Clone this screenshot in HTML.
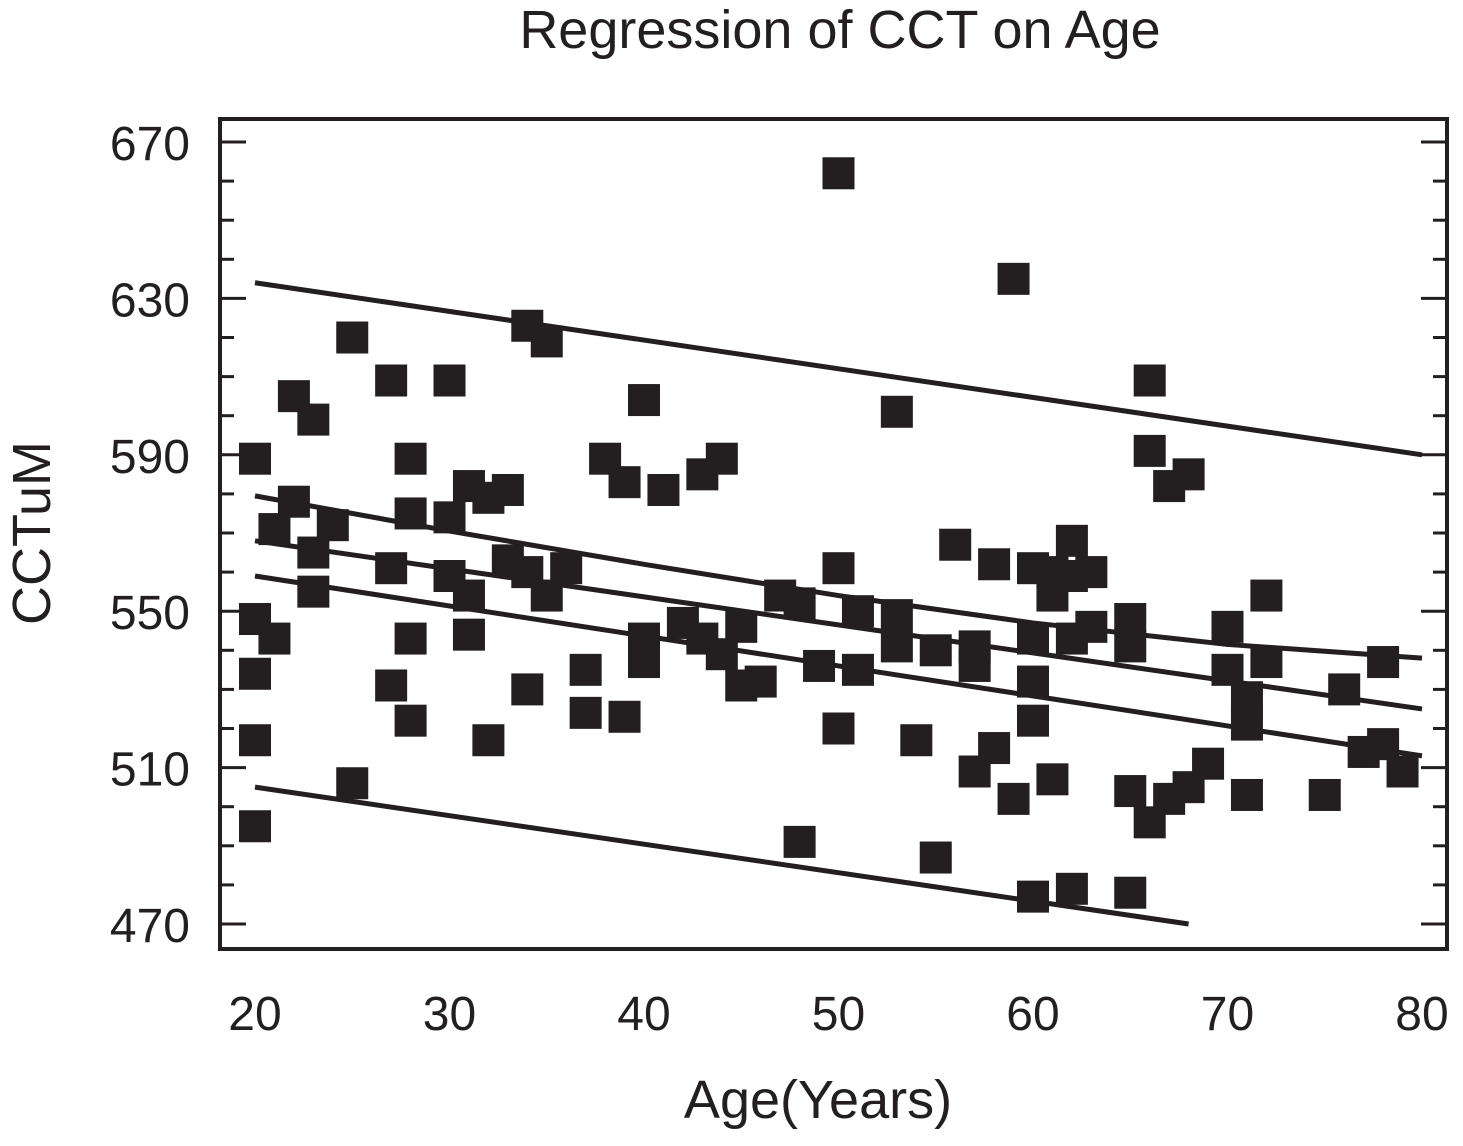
<!DOCTYPE html>
<html><head><meta charset="utf-8"><style>
body{margin:0;background:#fff}
svg{display:block}
text{font-family:"Liberation Sans",sans-serif;fill:#231f20}
</style></head><body>
<svg id="chart" width="1463" height="1146" viewBox="0 0 1463 1146" xmlns="http://www.w3.org/2000/svg">
<text x="840" y="48" font-size="54" text-anchor="middle">Regression of CCT on Age</text>
<text x="818" y="1118" font-size="54" text-anchor="middle">Age(Years)</text>
<text x="0" y="0" font-size="54" text-anchor="middle" transform="translate(50,533) rotate(-90)">CCTuM</text>
<rect x="220" y="119" width="1227" height="830" fill="none" stroke="#231f20" stroke-width="4"/>
<g id="axes"></g>
<g id="lines"></g>
<g id="points"></g>
</svg>
<script>
const yTicks=[470,510,550,590,630,670];
const xTicks=[20,30,40,50,60,70,80];
const ages=[50,59,20,20,20,20,20,21,22,22,21,23,23,23,24,25,25,27,27,27,28,28,28,28,30,30,30,31,31,31,32,32,33,33,34,34,34,35,35,36,37,37,38,39,39,40,40,40,41,42,43,43,44,44,45,45,46,47,48,48,49,50,50,51,51,53,53,53,54,55,55,56,57,57,57,58,58,59,60,60,60,60,60,61,61,61,62,62,62,62,63,63,65,65,65,65,66,66,67,68,67,66,68,69,70,70,71,71,71,72,72,75,76,77,78,78,79];
const ccts=[662,635,589,548,534,517,495,543,605,578,571,599,565,555,572,620,506,609,561,531,589,575,543,522,609,574,559,582,554,544,579,517,581,563,623,560,530,619,554,561,535,524,589,523,583,604,543,537,581,547,585,543,589,539,546,531,532,554,552,491,536,520,561,550,535,601,549,541,517,540,487,567,541,536,509,562,515,502,561,543,532,522,477,554,507,560,568,559,543,479,546,560,548,541,504,478,609,591,582,585,502,496,505,511,546,535,528,521,503,554,537,503,530,514,537,516,509];
const lineTopX=[20,80], lineTopY=[634,590];
const lineCurveX=[20,30,40,50,60,70,80], lineCurveY=[579.5,570.5,562,554,547,541.5,538];
const lineMidX=[20,80], lineMidY=[568,525];
const lineLowX=[20,80], lineLowY=[559,513];
const lineBotX=[20,68], lineBotY=[505,470];
const sx=a=>255+(a-20)*19.45;
const sy=v=>142+(670-v)*3.91;
const NS="http://www.w3.org/2000/svg";
const axes=document.getElementById('axes');
function mk(tag,attrs,parent){const e=document.createElementNS(NS,tag);for(const k in attrs)e.setAttribute(k,attrs[k]);parent.appendChild(e);return e;}
for(let v=460;v<=675;v+=10){
  const y=sy(v);if(y<121||y>947)continue;
  const major=yTicks.includes(v);const L=major?26:14;
  const t1=mk('line',{x1:220,x2:220+L,y1:y,y2:y,stroke:'#231f20','stroke-width':3},axes);
  
  
  const t2=mk('line',{x1:1447-L,x2:1447,y1:y,y2:y,stroke:'#231f20','stroke-width':3},axes);
  
  
}
yTicks.forEach(v=>{
  const t=mk('text',{x:190,y:sy(v)+18,'font-size':48,'text-anchor':'end'},axes);t.textContent=v;
  
  
});
xTicks.forEach(v=>{
  const t=mk('text',{x:sx(v),y:1030,'font-size':48,'text-anchor':'middle'},axes);t.textContent=v;
  
  
});
const lg=document.getElementById('lines');
[[lineTopX,lineTopY,'upper-prediction-line'],[lineCurveX,lineCurveY,'upper-confidence-curve'],[lineMidX,lineMidY,'regression-line'],[lineLowX,lineLowY,'lower-confidence-line'],[lineBotX,lineBotY,'lower-prediction-line']].forEach(([xs,ys,n])=>{
  const p=mk('polyline',{points:xs.map((a,i)=>sx(a)+','+sy(ys[i])).join(' '),fill:'none',stroke:'#231f20','stroke-width':5},lg);
  
  
});
const pg=document.getElementById('points');
ages.forEach((a,i)=>{
  const r=mk('rect',{x:sx(a)-16,y:sy(ccts[i])-16,width:32,height:32,fill:'#231f20'},pg);
  
  
});
</script>
</body></html>
